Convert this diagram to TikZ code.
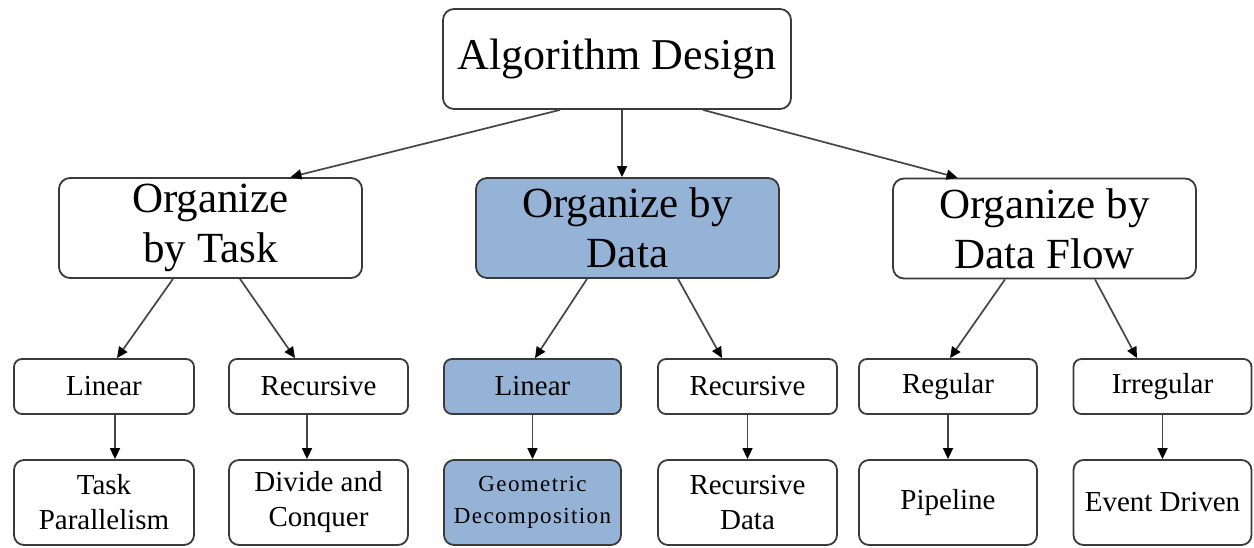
\documentclass[tikz,border=0pt]{standalone}
\usepackage{fontspec}
\setmainfont{Liberation Serif}
\newfontfamily\geofont[LetterSpace=6]{Liberation Serif}
\usetikzlibrary{arrows.meta}
\definecolor{boxblue}{HTML}{95B3D7}
\definecolor{edgegray}{HTML}{3A3A3A}
\definecolor{linkgray}{HTML}{454545}
\begin{document}
\begin{tikzpicture}[x=1pt,y=-1pt,
  box/.style={draw=edgegray,line width=1.8pt,rounded corners=11pt,inner sep=0pt,align=center},
  topbox/.style={box,minimum width=348pt,minimum height=100pt,font=\fontsize{44}{50}\selectfont},
  midbox/.style={box,minimum width=303pt,minimum height=100pt,font=\fontsize{43}{50}\selectfont},
  lowbox/.style={box,rounded corners=8pt,minimum height=55pt,font=\fontsize{29}{35}\selectfont},
  leafbox/.style={box,rounded corners=10pt,minimum height=85pt,font=\fontsize{29}{35}\selectfont},
  hl/.style={fill=boxblue},
  link/.style={draw=linkgray,line width=1.7pt,-{Triangle[length=11pt,width=10pt,color=black]}}
]
\useasboundingbox (0,0) rectangle (1254,548);

\node[topbox] (alg) at (617,59) {Algorithm Design};

\node[midbox] (task) at (210.5,228) {Organize\\ by Task};
\node[midbox,hl] (data) at (627.5,228) {Organize by\\Data};
\node[midbox] (flow) at (1044.5,228.5) {Organize by\\Data Flow};

\node[lowbox,minimum width=180pt] (lin1) at (104,386.5) {Linear};
\node[lowbox,minimum width=179pt] (rec1) at (318.5,386.5) {Recursive};
\node[lowbox,hl,minimum width=177pt] (lin2) at (532.5,386.5) {Linear};
\node[lowbox,minimum width=179pt] (rec2) at (747.5,386.5) {Recursive};
\node[lowbox,minimum width=178pt] (reg) at (948,386.5) {Regular};
\node[lowbox,minimum width=178pt] (irr) at (1162.5,386.5) {Irregular};

\node[leafbox,minimum width=180pt] (tp) at (104,502.5) {Task\\Parallelism};
\node[leafbox,minimum width=179pt] (dc) at (318.5,502.5) {Divide and\\Conquer};
\node[leafbox,hl,minimum width=177pt,font=\geofont\fontsize{23}{32}\selectfont] (gd) at (532.5,502.5) {Geometric\\Decomposition};
\node[leafbox,minimum width=179pt] (rd) at (747.5,502.5) {Recursive\\Data};
\node[leafbox,minimum width=178pt] (pl) at (948,502.5) {Pipeline};
\node[leafbox,minimum width=178pt] (ed) at (1162.5,502.5) {Event Driven};

\draw[link] ([xshift=-57pt]alg.south) -- ([xshift=80pt]task.north);
\draw[link] ([xshift=5pt]alg.south) -- ([xshift=-5.5pt]data.north);
\draw[link] ([xshift=86pt]alg.south) -- ([xshift=-87pt]flow.north);

\draw[link] ([xshift=-37.5pt]task.south) -- ([xshift=13pt]lin1.north);
\draw[link] ([xshift=29.5pt]task.south) -- ([xshift=-23.5pt]rec1.north);
\draw[link] ([xshift=-40.5pt]data.south) -- ([xshift=2.5pt]lin2.north);
\draw[link] ([xshift=50.5pt]data.south) -- ([xshift=-25.5pt]rec2.north);
\draw[link] ([xshift=-39.5pt]flow.south) -- ([xshift=2pt]reg.north);
\draw[link] ([xshift=50.5pt]flow.south) -- ([xshift=-25.5pt]irr.north);

\draw[link] ([xshift=11pt]lin1.south) -- ([xshift=11pt]tp.north);
\draw[link] ([xshift=-11.5pt]rec1.south) -- ([xshift=-11.5pt]dc.north);
\draw[link] (lin2.south) -- (gd.north);
\draw[link] (rec2.south) -- (rd.north);
\draw[link] (reg.south) -- (pl.north);
\draw[link] (irr.south) -- (ed.north);
\end{tikzpicture}
\end{document}
